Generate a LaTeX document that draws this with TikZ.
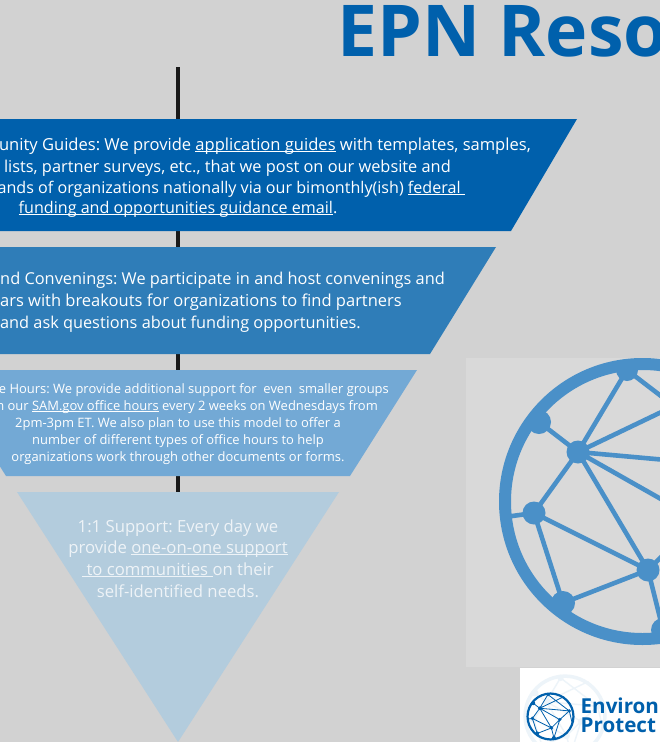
\documentclass[tikz,border=0pt]{standalone}
\usepackage{fontspec}
\setmainfont{Open Sans}
\definecolor{bgc}{HTML}{D2D2D2}
\definecolor{sq}{HTML}{D9D9D9}
\definecolor{b1}{HTML}{0060AC}
\definecolor{b2}{HTML}{2F7DB8}
\definecolor{b3}{HTML}{73A9D5}
\definecolor{b4}{HTML}{B3CCDD}
\definecolor{glob}{HTML}{4A90C8}
\definecolor{tri}{HTML}{EEF3F7}
\newcommand{\ulnk}[1]{\setbox0=\hbox{#1}\leavevmode\rlap{\rule[-2.2pt]{\wd0}{0.75pt}}\box0 }
\tikzset{
 lbig/.style={text=white,font=\fontsize{#1pt}{18pt}\selectfont\frenchspacing,inner sep=0pt},
 lsmall/.style={text=white,font=\fontsize{12.95pt}{15pt}\selectfont\frenchspacing,inner sep=0pt},
 ltri/.style={text=tri,font=\fontsize{16.7pt}{18pt}\selectfont\frenchspacing,inner sep=0pt},
}
\newcommand{\globenet}[3]{% colour, ring width, spoke width
 \draw[#1,line width=#2] (642.5,501.5) circle[radius=137.5];
 \coordinate (A) at (627,370); \coordinate (B) at (539,422); \coordinate (C) at (578,452);
 \coordinate (D) at (534,513); \coordinate (E) at (563,603); \coordinate (F) at (648,570);
 \coordinate (G) at (663,630); \coordinate (H) at (755,468); \coordinate (K) at (698,520);
 \coordinate (J) at (722,383); \coordinate (L) at (505,517); \coordinate (M) at (772,540);
 \draw[#1,line width=#3,line cap=round] (C)--(A) (C)--(B) (C)--(D) (C)--(F) (D)--(E) (D)--(F) (E)--(F) (F)--(G) (D)--(L)
   (C)--(H) (C)--(K) (C)--(J) (F)--(K) (H)--(K) (K)--(G) (A)--(H) (H)--(M);
 \foreach \p/\r in {A/11,B/12,C/11.5,D/11.5,E/12,F/11.5,G/12,H/11,K/11}{\fill[#1] (\p) circle[radius=\r];}
}
\begin{document}
\begin{tikzpicture}[x=1pt,y=-1pt]
\useasboundingbox (0,0) rectangle (660,742);
\clip (0,0) rectangle (660,742);
\fill[bgc] (0,0) rectangle (660,742);
\coordinate (spineTop) at (178,67);
\coordinate (spineBot) at (178,494);
\draw[black!90,line width=3.4pt] (spineTop)--(spineBot);
\node[anchor=base west,inner sep=0pt,text=b1,font=\fontsize{71.5pt}{80pt}\selectfont\bfseries] (title) at (337,56) {EPN Reso};
\fill[b1] (-221,119)--(577,119)--(511,231)--(-155,231)--cycle;
\fill[b2] (-140,247)--(496,247)--(430,354)--(-74,354)--cycle;
\fill[b3] (-61,370)--(417,370)--(350,476)--(6,476)--cycle;
\fill[b4] (17,492)--(339,492)--(178,742)--cycle;
\node[lbig=16.55,anchor=base east] (a1) at (531,150) {unity Guides: We provide \ulnk{application guides} with templates, samples,};
\node[lbig=16.35,anchor=base east] (a2) at (451,172) {lists, partner surveys, etc., that we post on our website and};
\node[lbig=16.1,anchor=base east] (a3) at (465,193) {ands of organizations nationally via our bimonthly(ish) \ulnk{federal\ }\unskip};
\node[lbig=16.1,anchor=base] (a4) at (178,213) {\ulnk{funding and opportunities guidance email}\unskip.};
\node[lbig=16.35,anchor=base east] (b1n) at (445,284) {nd Convenings: We participate in and host convenings and};
\node[lbig=16.5,anchor=base east] (b2n) at (402,306) {ars with breakouts for organizations to find partners};
\node[lbig=16.3,anchor=base east] (b3n) at (361,328) {and ask questions about funding opportunities.};
\node[lsmall,anchor=base east] (c1) at (389,393) {e Hours: We provide additional support for\ \ even\ \ smaller groups};
\node[lsmall,anchor=base east] (c2) at (378,410) {n our \ulnk{SAM.gov office hours} every 2 weeks on Wednesdays from};
\node[lsmall,anchor=base] (c3) at (178,427) {2pm-3pm ET. We also plan to use this model to offer a};
\node[lsmall,anchor=base] (c4) at (178,444) {number of different types of office hours to help};
\node[lsmall,anchor=base] (c5) at (178,461) {organizations work through other documents or forms.};
\node[ltri,anchor=base] (d1) at (178,532) {1:1 Support: Every day we};
\node[ltri,anchor=base] (d2) at (178,553) {provide \ulnk{one-on-one support}\unskip};
\node[ltri,anchor=base] (d3) at (178,575) {\ulnk{\ to communities\ }\unskip on their};
\node[ltri,anchor=base] (d4) at (178,597) {self-identified needs.};
\fill[sq] (466,358) rectangle (660,667);
\globenet{glob}{12pt}{4.6pt}
\fill[white] (520,668) rectangle (660,742);
\begin{scope}[shift={(565,716)},scale=0.29,shift={(-642.5,-501.5)}]
\globenet{b1!7}{3.5pt}{1.4pt}
\end{scope}
\begin{scope}[shift={(550.5,716.5)},scale=0.167,shift={(-642.5,-501.5)}]
\globenet{b1}{2.2pt}{0.8pt}
\end{scope}
\node[anchor=base west,inner sep=0pt,text=b1,font=\fontsize{20.6pt}{22pt}\selectfont\bfseries] (l1) at (580.5,713) {Environ};
\node[anchor=base west,inner sep=0pt,text=b1,font=\fontsize{20.6pt}{22pt}\selectfont\bfseries] (l2) at (580.5,732) {Protect};
\end{tikzpicture}
\end{document}
